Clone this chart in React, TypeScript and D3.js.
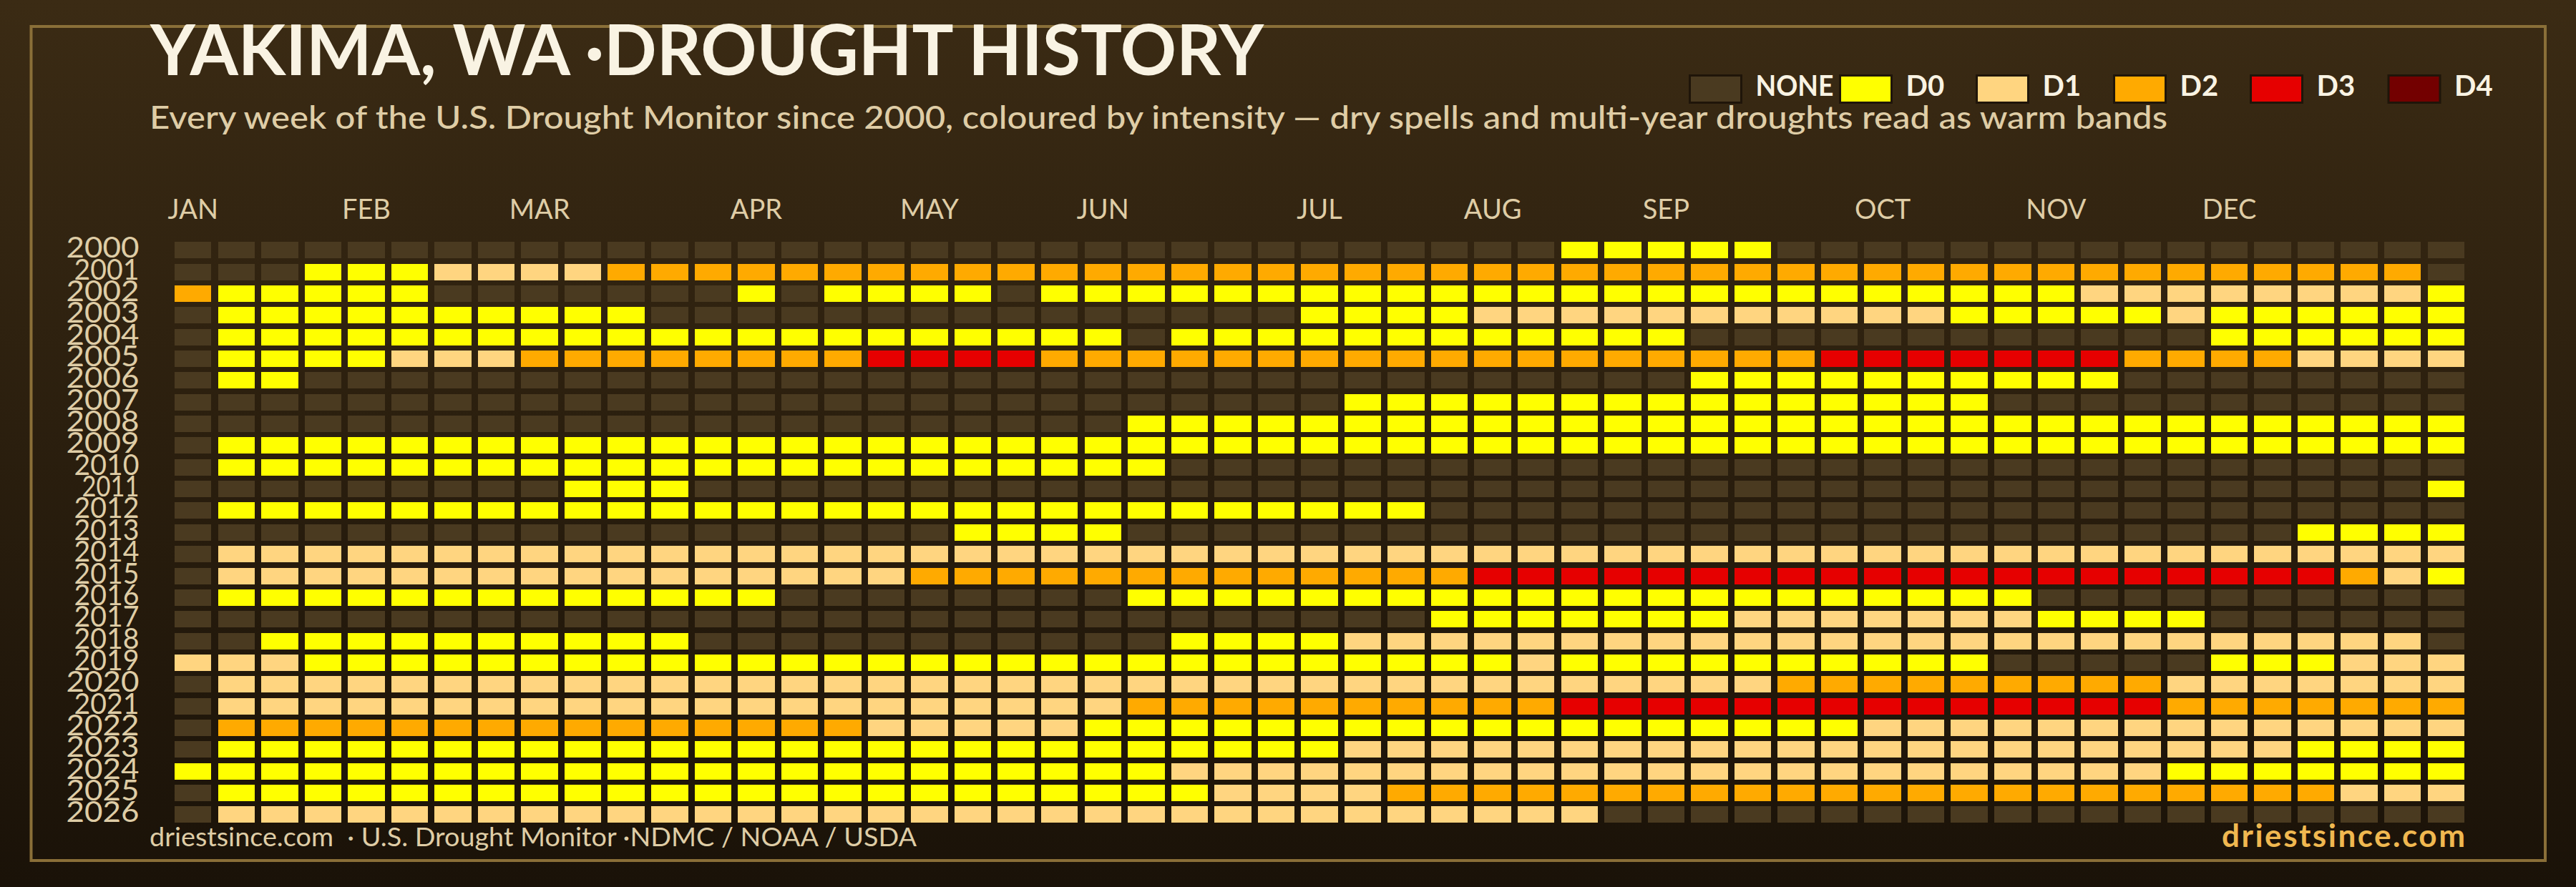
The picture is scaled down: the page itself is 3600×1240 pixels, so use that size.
import React from "react";
import * as d3 from "d3";

const WIDTH = 3600;
const HEIGHT = 1240;

const years = d3.range(2000, 2027).map(String);
const weeks = d3.range(0, 53);

// '.' = none, digits = drought class; grouped by ten weeks for readability
const weekRows = [
  ".......... .......... .......... ..00000... .......... ...",
  "...0001111 2222222222 2222222222 2222222222 2222222222 22.",
  "200000.... ...0.0000. 0000000000 0000000000 0000111111 110",
  ".000000000 0......... ......0000 1111111111 1000001000 000",
  ".000000000 0000000000 00.0000000 00000..... .......000 000",
  ".000011122 2222223333 2222222222 2222222233 3333322221 111",
  ".00....... .......... .......... .....00000 00000..... ...",
  ".......... .......... .......000 0000000000 00........ ...",
  ".......... .......... ..00000000 0000000000 0000000000 000",
  ".000000000 0000000000 0000000000 0000000000 0000000000 000",
  ".000000000 0000000000 000....... .......... .......... ...",
  ".........0 00........ .......... .......... .......... ..0",
  ".000000000 0000000000 000000000. .......... .......... ...",
  ".......... ........00 00........ .......... .........0 000",
  ".111111111 1111111111 1111111111 1111111111 1111111111 111",
  ".111111111 1111111222 2222222222 3333333333 3333333333 210",
  ".000000000 0000...... ..00000000 0000000000 000....... ...",
  ".......... .......... .........0 0000001111 1110000... ...",
  "..00000000 00........ ...0000111 1111111111 1111111111 11.",
  "1110000000 0000000000 0000000000 0100000000 00.....000 111",
  ".111111111 1111111111 1111111111 1111111222 2222221111 111",
  ".111111111 1111111111 1122222222 2233333333 3333332222 222",
  ".222222222 2222221111 1000000000 0000000001 1111111111 111",
  ".000000000 0000000000 0000000111 1111111111 1111111110 000",
  "0000000000 0000000000 0001111111 1111111111 1111110000 000",
  ".000000000 0000000000 0000111122 2222222222 2222222222 111",
  ".111111111 1111111111 1111111111 111....... .......... ...",
];

const monthNames = ["JAN", "FEB", "MAR", "APR", "MAY", "JUN", "JUL", "AUG", "SEP", "OCT", "NOV", "DEC"];
const monthWeeks = [0, 4, 8, 13, 17, 21, 26, 30, 34, 39, 43, 47];

const legendKeys = [".", "0", "1", "2", "3", "4"];
const legendNames = ["NONE", "D0", "D1", "D2", "D3", "D4"];
const legendLefts = [2361.5, 2571.5, 2762.5, 2954.5, 3145.5, 3338];
const colorValues = ["#4a3a20", "#ffff00", "#ffd580", "#ffaa00", "#e60000", "#730000"];

const titleText = "YAKIMA, WA ·DROUGHT HISTORY";
const subtitleText =
  "Every week of the U.S. Drought Monitor since 2000, coloured by intensity — dry spells and multi-year droughts read as warm bands";
const footerText = "driestsince.com  · U.S. Drought Monitor ·NDMC / NOAA / USDA";
const brandText = "driestsince.com";

const FONT = "Lato, 'Open Sans', sans-serif";

export default function App() {
  const x = d3.scaleBand<number>().domain(weeks).range([244, 3444]).paddingInner(0.15);
  const y = d3.scaleBand<string>().domain(years).range([338.2, 1150.2]).paddingInner(0.25);
  const color = d3.scaleOrdinal<string, string>().domain(legendKeys).range(colorValues);
  const rowY = (yr: string) => Math.round(y(yr) as number);
  const cellH = Math.round(y.bandwidth());
  const yearWidth = (yr: string) => 102 - 11 * yr.split("1").slice(1).length;

  return (
    <svg
      width={WIDTH}
      height={HEIGHT}
      viewBox={`0 0 ${WIDTH} ${HEIGHT}`}
      style={{ position: "absolute", left: 0, top: 0, display: "block" }}
      fontFamily={FONT}
    >
      <defs>
        <linearGradient id="bg" x1="0" y1="0" x2="0" y2="1">
          <stop offset="0" stopColor="#3b2b14" />
          <stop offset="1" stopColor="#1a1208" />
        </linearGradient>
      </defs>
      <rect x={0} y={0} width={WIDTH} height={HEIGHT} fill="url(#bg)" />
      <rect x={43.5} y={37} width={3513.5} height={1166} fill="none" stroke="#8a6f38" strokeWidth={4} />

      <text x={210} y={105} fontSize={98} fontWeight={700} fill="#f9f3e3" textLength={1556} lengthAdjust="spacingAndGlyphs">
        {titleText}
      </text>
      <text x={209} y={180} fontSize={44} fontWeight={500} fill="#dfcda6" textLength={2820} lengthAdjust="spacingAndGlyphs">
        {subtitleText}
      </text>

      {legendNames.map((name, i) => (
        <g key={name}>
          <rect
            x={legendLefts[i]}
            y={105.5}
            width={72}
            height={38}
            fill={color(legendKeys[i])}
            stroke="#1f1509"
            strokeWidth={3}
          />
          <text
            x={legendLefts[i] + 92}
            y={134}
            fontSize={40}
            fontWeight={700}
            fill="#f9f3e3"
            textLength={name === "NONE" ? 109 : undefined}
            lengthAdjust="spacingAndGlyphs"
          >
            {name}
          </text>
        </g>
      ))}

      {monthNames.map((m, i) => (
        <text
          key={m}
          x={(x(monthWeeks[i]) as number) + x.bandwidth() / 2}
          y={306}
          fontSize={38}
          fill="#dfcda6"
          textAnchor="middle"
        >
          {m}
        </text>
      ))}

      {years.map((yr) => (
        <text
          key={yr}
          x={194.5 - yearWidth(yr)}
          y={rowY(yr) + cellH - 1}
          fontSize={40}
          fill="#dfcda6"
          textLength={yearWidth(yr)}
          lengthAdjust="spacingAndGlyphs"
        >
          {yr}
        </text>
      ))}

      <g shapeRendering="crispEdges">
        {years.map((yr, r) => {
          const cells = weekRows[r].replace(/ /g, "").split("");
          return cells.map((c, w) => (
            <rect key={`${yr}-${w}`} x={x(w)} y={rowY(yr)} width={x.bandwidth()} height={cellH} fill={color(c)} />
          ));
        })}
      </g>

      <text x={209} y={1183} fontSize={36} fill="#dfcda6" style={{ whiteSpace: "pre" }} textLength={1072} lengthAdjust="spacingAndGlyphs">
        {footerText}
      </text>
      <text x={3105} y={1184} fontSize={44} fontWeight={700} fill="#f0b850" textLength={340} lengthAdjust="spacing">
        {brandText}
      </text>
    </svg>
  );
}
